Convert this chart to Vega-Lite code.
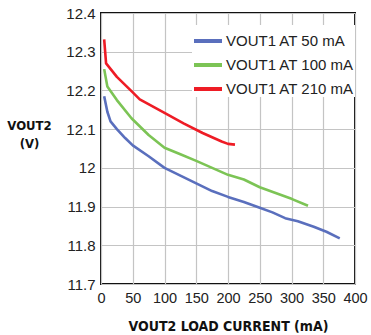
{
  "$schema": "https://vega.github.io/schema/vega-lite/v6.json",
  "autosize": {"type": "none"},
  "width": 254,
  "height": 271,
  "padding": {"left": 101, "top": 13, "right": 16, "bottom": 51},
  "background": "white",
  "config": {
    "font": "Liberation Sans",
    "view": {"stroke": "#111111", "strokeWidth": 2},
    "axis": {"gridColor": "#c4c4c4", "gridWidth": 1.2, "domain": false, "ticks": false, "labelFontSize": 15, "labelColor": "#222222", "titleColor": "#111111", "labelOverlap": false, "labelFlush": false}
  },
  "data": {"values": [
    {"s": "VOUT1 AT 50 mA", "x": 5, "y": 12.185},
    {"s": "VOUT1 AT 50 mA", "x": 10, "y": 12.145},
    {"s": "VOUT1 AT 50 mA", "x": 15, "y": 12.12},
    {"s": "VOUT1 AT 50 mA", "x": 25, "y": 12.1},
    {"s": "VOUT1 AT 50 mA", "x": 38, "y": 12.077},
    {"s": "VOUT1 AT 50 mA", "x": 50, "y": 12.058},
    {"s": "VOUT1 AT 50 mA", "x": 75, "y": 12.03},
    {"s": "VOUT1 AT 50 mA", "x": 100, "y": 12.0},
    {"s": "VOUT1 AT 50 mA", "x": 125, "y": 11.98},
    {"s": "VOUT1 AT 50 mA", "x": 150, "y": 11.96},
    {"s": "VOUT1 AT 50 mA", "x": 175, "y": 11.94},
    {"s": "VOUT1 AT 50 mA", "x": 200, "y": 11.925},
    {"s": "VOUT1 AT 50 mA", "x": 225, "y": 11.912},
    {"s": "VOUT1 AT 50 mA", "x": 250, "y": 11.897},
    {"s": "VOUT1 AT 50 mA", "x": 270, "y": 11.885},
    {"s": "VOUT1 AT 50 mA", "x": 290, "y": 11.87},
    {"s": "VOUT1 AT 50 mA", "x": 310, "y": 11.862},
    {"s": "VOUT1 AT 50 mA", "x": 335, "y": 11.848},
    {"s": "VOUT1 AT 50 mA", "x": 355, "y": 11.835},
    {"s": "VOUT1 AT 50 mA", "x": 376, "y": 11.818},
    {"s": "VOUT1 AT 100 mA", "x": 5, "y": 12.255},
    {"s": "VOUT1 AT 100 mA", "x": 10, "y": 12.21},
    {"s": "VOUT1 AT 100 mA", "x": 25, "y": 12.175},
    {"s": "VOUT1 AT 100 mA", "x": 48, "y": 12.128},
    {"s": "VOUT1 AT 100 mA", "x": 75, "y": 12.085},
    {"s": "VOUT1 AT 100 mA", "x": 100, "y": 12.052},
    {"s": "VOUT1 AT 100 mA", "x": 125, "y": 12.035},
    {"s": "VOUT1 AT 100 mA", "x": 150, "y": 12.018},
    {"s": "VOUT1 AT 100 mA", "x": 175, "y": 12.0},
    {"s": "VOUT1 AT 100 mA", "x": 200, "y": 11.982},
    {"s": "VOUT1 AT 100 mA", "x": 225, "y": 11.97},
    {"s": "VOUT1 AT 100 mA", "x": 250, "y": 11.95},
    {"s": "VOUT1 AT 100 mA", "x": 275, "y": 11.935},
    {"s": "VOUT1 AT 100 mA", "x": 300, "y": 11.92},
    {"s": "VOUT1 AT 100 mA", "x": 326, "y": 11.902},
    {"s": "VOUT1 AT 210 mA", "x": 5, "y": 12.332},
    {"s": "VOUT1 AT 210 mA", "x": 8, "y": 12.27},
    {"s": "VOUT1 AT 210 mA", "x": 25, "y": 12.235},
    {"s": "VOUT1 AT 210 mA", "x": 50, "y": 12.195},
    {"s": "VOUT1 AT 210 mA", "x": 61, "y": 12.177},
    {"s": "VOUT1 AT 210 mA", "x": 100, "y": 12.142},
    {"s": "VOUT1 AT 210 mA", "x": 130, "y": 12.115},
    {"s": "VOUT1 AT 210 mA", "x": 160, "y": 12.09},
    {"s": "VOUT1 AT 210 mA", "x": 190, "y": 12.068},
    {"s": "VOUT1 AT 210 mA", "x": 200, "y": 12.062},
    {"s": "VOUT1 AT 210 mA", "x": 211, "y": 12.06}
  ]},
  "mark": {"type": "line", "strokeWidth": 2.6, "strokeJoin": "round"},
  "encoding": {
    "x": {"field": "x", "type": "quantitative", "scale": {"domain": [0, 400], "nice": false},
      "axis": {"values": [0,50,100,150,200,250,300,350,400], "labelPadding": 7, "labelFontSize": 14.5, "title": "VOUT2 LOAD CURRENT (mA)", "titleFontSize": 14, "titleFontWeight": "bold", "titleFont": "DejaVu Sans Condensed", "titlePadding": 15}},
    "y": {"field": "y", "type": "quantitative", "scale": {"domain": [11.7, 12.4], "nice": false, "zero": false},
      "axis": {"values": [11.7,11.8,11.9,12,12.1,12.2,12.3,12.4], "format": "~r", "labelPadding": 6, "title": ["VOUT2", "(V)"], "titleAngle": 0, "titleAlign": "center", "titleBaseline": "middle", "titleX": -72, "titleY": 112, "titleFontSize": 13, "titleFontWeight": "bold", "titleFont": "DejaVu Sans Condensed", "titleLineHeight": 18}},
    "color": {"field": "s", "type": "nominal", "sort": null,
      "scale": {"domain": ["VOUT1 AT 50 mA", "VOUT1 AT 100 mA", "VOUT1 AT 210 mA"], "range": ["#5a6fbd", "#7cc455", "#ee1c25"]},
      "legend": {"title": null, "orient": "none", "legendX": 91, "legendY": 12, "symbolType": "stroke", "symbolStrokeWidth": 4, "symbolSize": 784, "labelFontSize": 15, "labelColor": "#222222", "rowPadding": -4, "labelOffset": 2, "fillColor": "white"}}
  }
}
